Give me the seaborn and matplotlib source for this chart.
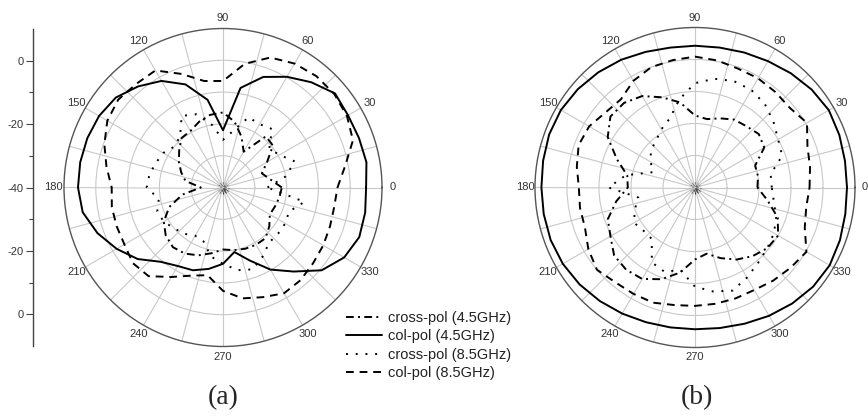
import numpy as np
import pandas as pd
import seaborn as sns
import matplotlib.pyplot as plt
from matplotlib.ticker import FixedLocator

sns.set_theme(style="white")
plt.rcParams['font.family'] = ['Liberation Sans', 'DejaVu Sans']

# angles (deg) at which the patterns were sampled
angles = [0, 10, 20, 30, 40, 50, 60, 70, 80, 90, 100, 110,
          120, 130, 140, 150, 160, 170, 180, 190, 200, 210, 220, 230,
          240, 250, 260, 270, 280, 290, 300, 310, 320, 330, 340, 350]
angle_labels = ['0', '30', '60', '90', '120', '150', '180', '210', '240', '270', '300', '330']

# (a) gain in dB
a_cross_45 = [-21.5, -25, -27, -24, -19.5, -19, -27, -23, -19, -16.4, -16.8, -18,
              -19.5, -19.7, -22, -24, -26, -28, -33, -27, -22, -18.5, -16.5, -15.5,
              -16, -17.3, -19, -20.5, -20, -19.5, -19.2, -19.2, -21, -23, -22.6, -22]
a_col_45 = [5, 5.8, 5.5, 5.4, 6, 3.2, 0.2, -3, -8.2, -22, -12, -5.5,
            -1.3, 1.5, 4, 5, 5.4, 5.6, 5.6, 4.8, 2, -1.4, -5, -9.5,
            -11.5, -12.3, -14, -16, -19.4, -15.6, -10.2, -5.5, 0.5, 4, 5.6, 5.4]
a_cross_85 = [-26, -20, -16, -19.5, -21, -16, -17, -16.5, -22, -25, -20, -15.5,
              -14, -19, -20, -18.3, -17.5, -16.5, -16, -19.5, -18, -18.5, -20, -21,
              -22.5, -22, -18, -16, -13.6, -12.6, -15, -17.4, -17.4, -17.4, -17.9, -14]
a_col_85 = [-4, -1, 3.5, 5, 5.7, 5.7, 5, 3.5, -0.5, -6.5, -6, -2,
            2.5, 2.5, 3, 2, -0.3, -2.8, -5, -4.5, -4.4, -4.2, -3, -3.6,
            -7.5, -10.5, -12, -7.5, -4.6, -3.3, -1.6, -2, -3, -3.6, -4.2, -4.5]

# (b) gain in dB
b_cross_45 = [-20.5, -20, -20, -15, -14, -15, -15.5, -17, -18.3, -17.5, -13, -10,
              -7, -5.5, -5.5, -8.5, -14, -18.5, -19, -15, -11, -9.5, -7, -6.5,
              -7, -9.5, -13, -17.5, -19, -16.5, -14, -12, -10.5, -10, -12.5, -17]
b_col_45 = [7.5, 7.6, 8, 8.3, 7.6, 6.6, 5.6, 4.9, 4.4, 4.3, 4.4, 5.1,
            6.1, 7, 7.8, 8.4, 8.5, 8.2, 8, 8, 8, 7.7, 7.1, 6.3,
            5.5, 4.8, 4.4, 4.3, 4.6, 5.3, 6.3, 7.3, 8.2, 8.6, 8.2, 7.7]
b_cross_85 = [-16, -16, -11, -10, -8, -6, -4.8, -4.6, -5.5, -7.4, -12, -17,
              -19, -21, -22, -24, -26, -18, -13, -22, -20, -18, -19, -19,
              -13, -12, -13.8, -9, -7, -5.7, -7.5, -9.3, -10.5, -11.5, -13, -15]
b_col_85 = [-4.2, -3.5, -2.6, 0.4, -1.3, -1, -0.6, -0.5, 0.3, 0.9, 0.4, 0,
            -1.5, -4, -3.5, -1.8, -1.3, -2.5, -3.7, -3.5, -3.4, -1.5, 0, -1.3,
            -1.6, -1.7, -2.7, -3, -3.1, -3.1, -3, -2, -1, 0.2, -3.5, -4.7]

labels = ['cross-pol (4.5GHz)', 'col-pol (4.5GHz)', 'cross-pol (8.5GHz)', 'col-pol (8.5GHz)']
styles = [(0, (4, 2.2, 1, 2.2)), '-', (0, (1, 4)), (0, (4, 3))]

fig = plt.figure(figsize=(8.68, 4.17), dpi=100)


def polar_panel(rect, curves, label_pad):
    ax = fig.add_axes(rect, projection='polar')
    for (vals, label, ls) in zip(curves, labels, styles):
        df = pd.DataFrame({'theta': np.deg2rad(angles + [360]), 'r': vals + vals[:1]})
        sns.lineplot(data=df, x='theta', y='r', ax=ax, sort=False, estimator=None,
                     color='black', lw=1.4, label=label)
        ax.get_lines()[-1].set_linestyle(ls)
    if ax.get_legend() is not None:
        ax.get_legend().remove()
    ax.set_xlabel('')
    ax.set_ylabel('')
    ax.set_ylim(-40, 10)
    ax.set_yticks([-30, -20, -10, 0])
    ax.set_yticklabels([])
    ax.set_xticks(np.deg2rad(np.arange(0, 360, 30)))
    ax.set_xticklabels(angle_labels)
    ax.xaxis.set_minor_locator(FixedLocator(np.deg2rad(np.arange(15, 360, 30))))
    ax.grid(True, which='major', color='#c8c8c8', lw=0.8)
    ax.xaxis.grid(True, which='minor', color='#c8c8c8', lw=0.8)
    ax.spines['polar'].set_color('#555555')
    ax.spines['polar'].set_linewidth(1.0)
    ax.tick_params(axis='x', which='major', bottom=True, direction='in', length=4,
                   width=0.8, color='#333333', pad=label_pad, labelsize=8, labelcolor='#333333')
    ax.tick_params(axis='x', which='minor', bottom=True, direction='in', length=2,
                   width=0.6, color='#333333')
    ax.tick_params(axis='y', left=False, right=False)
    return ax


ax_a = polar_panel([64 / 868, 70.5 / 417, 318 / 868, 318 / 417],
                   [a_cross_45, a_col_45, a_cross_85, a_col_85], 0.5)
ax_b = polar_panel([535 / 868, 69.5 / 417, 320 / 868, 320 / 417],
                   [b_cross_45, b_col_45, b_cross_85, b_col_85], 0)

# radial dB scale for (a)
sax = fig.add_axes([33 / 868, 71 / 417, 0.001, 317 / 417])
sax.patch.set_alpha(0)
sax.set_ylim(-50, 50)
for s in ['top', 'right', 'bottom']:
    sax.spines[s].set_visible(False)
sax.spines['left'].set_color('#444444')
sax.spines['left'].set_linewidth(1.0)
sax.set_xticks([])
sax.set_yticks([-40, -20, 0, 20, 40])
sax.set_yticklabels(['0', '-20', '-40', '-20', '0'])
sax.set_yticks([-30, -10, 10, 30], minor=True)
sax.tick_params(axis='y', which='major', left=True, direction='out', length=5, width=0.8,
                color='#444444', labelsize=8, labelcolor='#333333', pad=2)
sax.tick_params(axis='y', which='minor', left=True, direction='out', length=3, width=0.8,
                color='#444444')

handles = ax_a.get_lines()[:4]
fig.legend(handles, labels, loc='upper left', bbox_to_anchor=(346 / 868, (417 - 311) / 417),
           frameon=False, fontsize=10.5, handlelength=2.5, handletextpad=0.4,
           labelspacing=0.3, borderpad=0, borderaxespad=0, labelcolor='#222222')

fig.text(223 / 868, 1 - 398 / 417, '(a)', ha='center', va='center', fontsize=20,
         family='Liberation Serif')
fig.text(697 / 868, 1 - 398 / 417, '(b)', ha='center', va='center', fontsize=20,
         family='Liberation Serif')

fig.savefig('out.png', dpi=100)
